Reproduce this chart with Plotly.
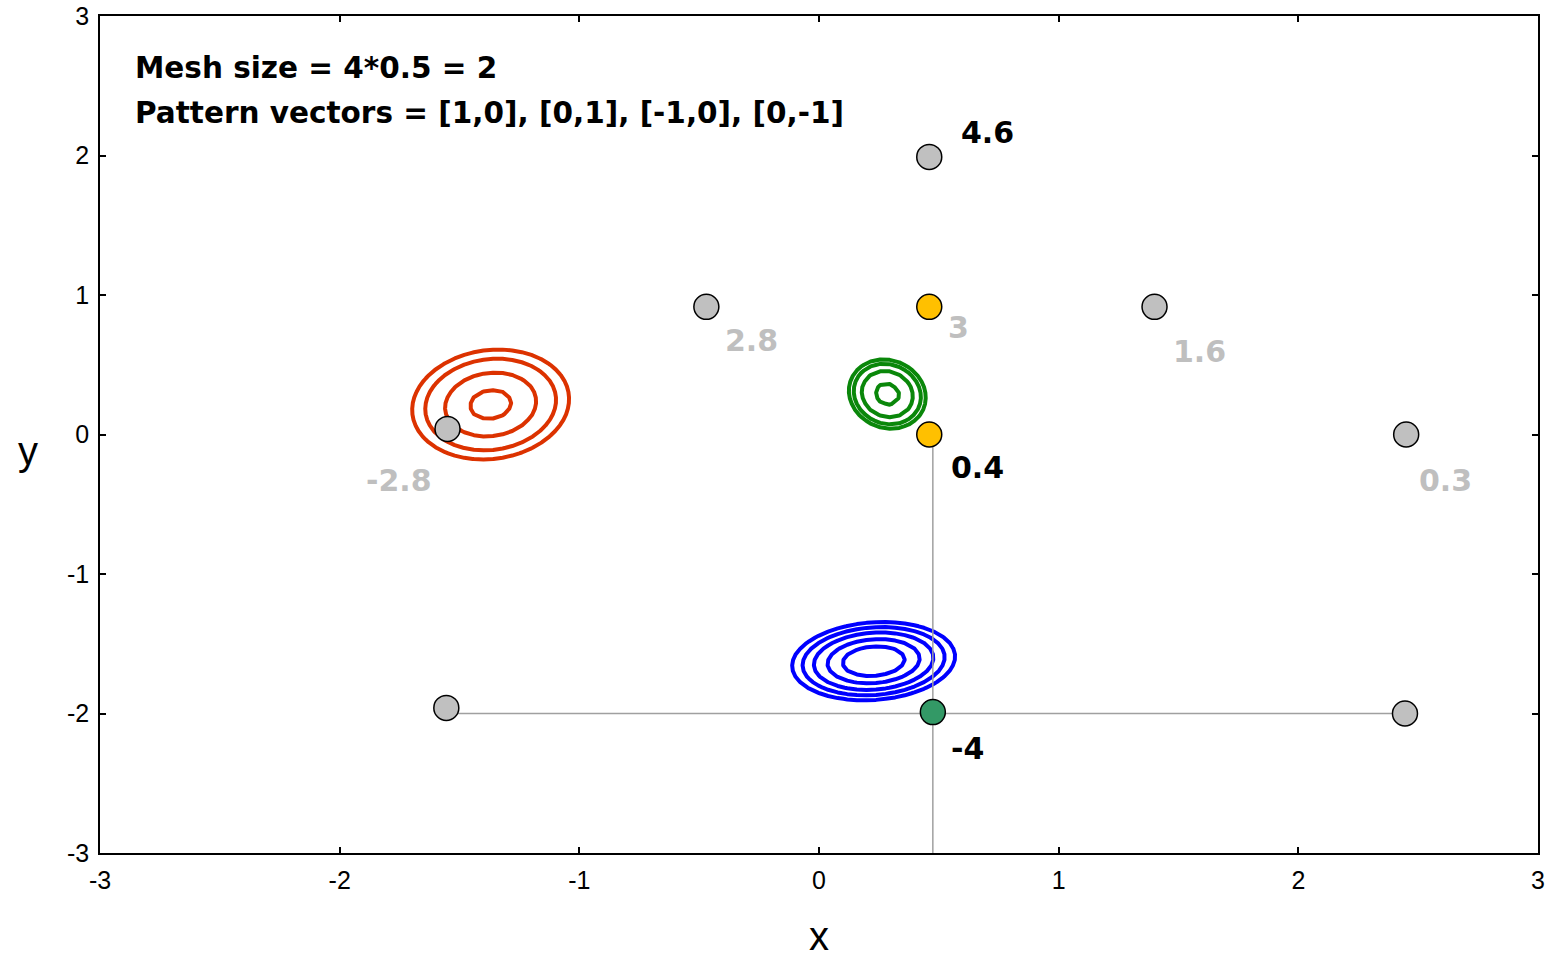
import numpy as np
import plotly.graph_objects as go

# Poll points of the pattern search
pt_x = [0.46, -0.47, 0.46, 1.40, -1.55, 0.46, 2.45, -1.555, 0.475, 2.445]
pt_y = [1.99, 0.915, 0.915, 0.915, 0.04, 0.0, 0.0, -1.96, -1.99, -2.0]
pt_kind = ["old", "old", "hit", "old", "old", "hit", "old", "old", "best", "old"]
pt_value = ["4.6", "2.8", "3", "1.6", "-2.8", "0.4", "0.3", None, "-4", None]
pt_value_style = ["dark", "light", "light", "light", "light", "dark", "light", None, "dark", None]

# Label offsets in pixels (dx right, dy up)
label_dx = [58, 45, 29, 45, -49, 48, 39, 0, 35, 0]
label_dy = [24, -34, -21, -45, -52, -33, -46, 0, -36, 0]

# Mesh lines through the current point
hline_x = [-1.555, 2.445]
hline_y = [-2.0, -2.0]
vline_x = [0.475, 0.475]
vline_y = [0.0, -3.0]

# Axis ticks
tick_vals = [-3, -2, -1, 0, 1, 2, 3]
tick_text = ["-3", "-2", "-1", "0", "1", "2", "3"]

# Gaussian blobs drawn as contour lines: centre, spread, correlation, levels
blobs = [
    dict(cx=-1.37, cy=0.215, sx=0.27, sy=0.325, rho=0.1,
         levels=[0.95, 0.78, 0.60, 0.48], color="#DC3200"),
    dict(cx=0.285, cy=0.29, sx=0.132, sy=0.205, rho=-0.1,
         levels=[0.93, 0.72, 0.57, 0.48], color="#0A870A"),
    dict(cx=0.228, cy=-1.625, sx=0.228, sy=0.188, rho=0.12,
         levels=[0.85, 0.70, 0.55, 0.43, 0.33], color="#0000FF"),
]

kind_fill = {"old": "#C0C0C0", "hit": "#FFC000", "best": "#339966"}
label_color = {"dark": "#000000", "light": "#BFBFBF"}

fig = go.Figure()

# contour blobs
for b in blobs:
    gx = np.arange(b["cx"] - 0.75, b["cx"] + 0.75, 0.04)
    gy = np.arange(b["cy"] - 0.75, b["cy"] + 0.75, 0.04)
    X, Y = np.meshgrid(gx, gy)
    dx = (X - b["cx"]) / b["sx"]
    dy = (Y - b["cy"]) / b["sy"]
    q = (dx**2 - 2 * b["rho"] * dx * dy + dy**2) / (1 - b["rho"]**2)
    Z = np.exp(-q / 2)
    for lv in b["levels"]:
        fig.add_trace(go.Contour(
            x=gx, y=gy, z=Z,
            contours=dict(start=lv, end=lv, size=1, coloring="lines"),
            colorscale=[[0, b["color"]], [1, b["color"]]],
            line=dict(width=4, smoothing=0),
            showscale=False, hoverinfo="skip",
        ))

# mesh lines
for lx, ly in [(hline_x, hline_y), (vline_x, vline_y)]:
    fig.add_trace(go.Scatter(x=lx, y=ly, mode="lines",
                             line=dict(color="#A0A0A0", width=1.5),
                             hoverinfo="skip", showlegend=False))

# poll points
fig.add_trace(go.Scatter(
    x=pt_x, y=pt_y, mode="markers",
    marker=dict(size=25, color=[kind_fill[k] for k in pt_kind],
                line=dict(color="#000000", width=1.5)),
    showlegend=False, hoverinfo="skip",
))

annotations = []
for x, y, v, s, ddx, ddy in zip(pt_x, pt_y, pt_value, pt_value_style, label_dx, label_dy):
    if v is None:
        continue
    annotations.append(dict(
        x=x, y=y, xref="x", yref="y", text="<b>" + v + "</b>", showarrow=False,
        xshift=ddx, yshift=ddy, xanchor="center", yanchor="middle",
        font=dict(family="DejaVu Sans", size=30, color=label_color[s]),
    ))

annotations += [
    dict(x=0.023, y=0.938, xref="paper", yref="paper", xanchor="left", yanchor="middle",
         text="<b>Mesh size = 4*0.5 = 2</b>", showarrow=False,
         font=dict(family="DejaVu Sans", size=29.5, color="#000000")),
    dict(x=0.023, y=0.884, xref="paper", yref="paper", xanchor="left", yanchor="middle",
         text="<b>Pattern vectors = [1,0], [0,1], [-1,0], [0,-1]</b>", showarrow=False,
         font=dict(family="DejaVu Sans", size=29.5, color="#000000")),
    dict(x=-0.05, y=0.48, xref="paper", yref="paper", text="y", showarrow=False,
         xanchor="center", yanchor="middle",
         font=dict(family="Liberation Sans, Arial", size=40, color="#000000")),
]

fig.update_layout(
    width=1549, height=958,
    margin=dict(l=100, r=11, t=16, b=105),
    plot_bgcolor="#FFFFFF", paper_bgcolor="#FFFFFF",
    showlegend=False,
    annotations=annotations,
    font=dict(family="Liberation Sans, Arial", size=25, color="#000000"),
)
axis_common = dict(
    range=[-3, 3], tickvals=tick_vals, ticktext=tick_text, automargin=False,
    showline=True, linecolor="#000000", linewidth=1.5, mirror="ticks",
    ticks="inside", ticklen=6, tickwidth=1.5, tickcolor="#000000",
    showgrid=False, zeroline=False,
    tickfont=dict(family="Liberation Sans, Arial", size=25, color="#000000"),
)
fig.update_xaxes(**axis_common, ticklabelstandoff=4,
                 title=dict(text="x", font=dict(size=40), standoff=32))
fig.update_yaxes(**axis_common, ticklabelstandoff=4)

fig.write_html("out.html")
